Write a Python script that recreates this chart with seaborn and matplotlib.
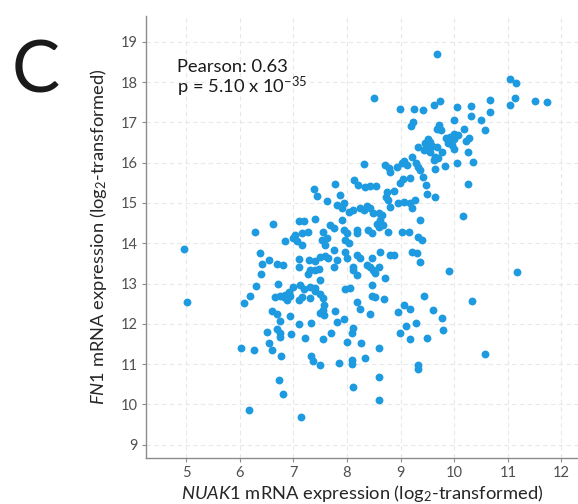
import matplotlib
matplotlib.use("Agg")
import matplotlib.pyplot as plt
import seaborn as sns
import pandas as pd

# NUAK1 (x) and FN1 (y) log2 expression
nuak1 = [
    # upper region
    7.38, 7.78, 7.87,
    9.68, 11.04, 11.16, 11.14, 11.04, 11.51, 11.74, 8.51, 8.99, 9.25, 9.42, 9.63, 9.73,
    10.05, 10.31, 10.66, 10.66, 10.31, 10.50, 10.57, 9.99, 9.23, 9.20, 9.72, 9.68, 10.19,
    10.27, 10.08, 9.93, 9.84, 9.89, 9.99, 9.52, 9.48, 9.58, 9.33, 9.52, 9.68, 9.77, 10.26,
    10.36, 10.05, 9.83, 9.65, 9.70, 9.64, 9.21, 9.29, 9.07, 9.12, 8.94, 9.37, 9.42, 8.71,
    8.79, 8.81, 8.32, 9.17, 9.04, 8.98, 9.48, 10.26, 8.13, 8.21, 8.34, 8.43, 8.54, 8.74,
    8.88, 8.73, 9.50, 9.65, 9.27,
    9.75, 9.99, 9.93, 9.99, 9.96, 10.22, 9.46, 9.55, 9.43, 9.55, 9.63, 9.32, 9.02,
    # left-middle region
    7.44, 7.62, 6.62, 6.29, 7.10, 7.19, 7.41, 7.28, 7.16, 7.03, 7.00, 7.07, 7.16, 6.85,
    7.56, 7.53, 7.62, 7.59, 6.37, 6.55, 6.42, 6.70, 6.80, 7.10, 7.10, 7.30, 7.41, 7.50,
    7.59, 7.65, 6.40, 7.31, 7.41, 7.47, 7.28, 7.50, 6.31, 6.72, 7.00, 7.13, 7.19, 7.31,
    7.41, 6.19, 6.07, 6.66, 6.75, 6.85, 6.91, 6.94, 6.88, 6.83, 7.10, 7.16, 7.31, 7.41,
    7.50, 7.55, 7.58, 7.55, 7.49, 7.57, 6.61, 6.69, 6.75, 6.94, 7.11, 7.33, 6.51, 6.69,
    6.75, 6.75, 6.95, 7.22, 7.55, 6.55, 6.02, 6.27, 6.61, 6.77, 7.33, 7.36, 7.50, 6.73,
    6.80, 6.18, 7.14,
    # centre region
    7.81, 7.90, 7.94, 8.03, 8.12, 8.25, 8.31, 8.37, 8.43, 8.49, 8.59, 8.65, 8.62, 8.56,
    8.59, 8.68, 8.77, 8.96, 9.06, 9.18, 9.21, 8.81, 7.69, 7.75, 7.90, 7.94, 8.00, 7.97,
    8.03, 8.18, 8.18, 8.40, 8.46, 8.77, 9.02, 9.15, 9.37, 9.33, 9.40, 7.75, 7.81, 7.75,
    7.97, 8.00, 8.18, 8.25, 8.12, 8.12, 8.18, 8.37, 8.43, 8.46, 8.49, 8.53, 8.62, 8.59,
    8.71, 8.46, 8.81, 8.87, 9.21, 9.30, 9.37,
    8.46, 8.53, 8.69, 8.18, 8.25, 8.43, 7.78, 7.81, 7.95, 7.71, 8.12, 8.09, 8.00, 8.26,
    8.60, 8.34, 8.09, 8.09, 7.85, 8.59, 8.12, 8.59, 9.43, 9.07, 8.96, 9.18, 9.61, 9.10,
    9.29, 8.98, 9.18, 9.49, 9.33, 9.33, 7.97, 8.05,
    # right and far-left outliers
    10.17, 9.91, 11.18, 10.33, 9.77, 9.79, 10.57,
    4.95, 5.01,
]

fn1 = [
    15.34, 15.47, 15.19,
    18.69, 18.07, 17.98, 17.61, 17.42, 17.52, 17.50, 17.61, 17.33, 17.34, 17.30, 17.42, 17.53,
    17.39, 17.40, 17.55, 17.25, 17.15, 17.06, 16.81, 17.06, 17.01, 16.90, 16.93, 16.83, 16.83,
    16.62, 16.68, 16.64, 16.62, 16.48, 16.35, 16.58, 16.46, 16.41, 16.39, 16.31, 16.39, 16.26, 16.26,
    16.02, 16.00, 15.92, 16.15, 16.12, 15.84, 16.13, 15.98, 16.03, 15.94, 15.90, 15.83, 15.65, 15.94,
    15.86, 15.77, 15.97, 15.63, 15.59, 15.50, 15.44, 15.47, 15.57, 15.44, 15.40, 15.43, 15.43, 15.28,
    15.30, 15.15, 15.22, 15.15, 15.07,
    16.81, 16.72, 16.52, 16.58, 16.44, 16.54, 16.48, 16.52, 16.31, 16.27, 16.06, 15.90, 15.98,
    15.18, 15.05, 14.47, 14.28, 14.56, 14.55, 14.59, 14.29, 14.25, 14.20, 14.12, 14.05, 13.96, 14.06,
    14.29, 14.08, 14.12, 13.96, 13.75, 13.58, 13.48, 13.48, 13.46, 13.60, 13.42, 13.58, 13.57, 13.65,
    13.68, 13.63, 13.24, 13.33, 13.33, 13.35, 13.24, 13.09, 12.94, 12.99, 12.91, 12.96, 12.86, 12.91,
    12.88, 12.70, 12.52, 12.67, 12.69, 12.71, 12.80, 12.69, 12.59, 12.66, 12.59, 12.67, 12.63, 12.82,
    12.74, 12.63, 12.47, 12.34, 12.26, 12.22, 12.33, 12.24, 12.08, 12.20, 11.99, 12.01, 11.80, 11.87,
    11.78, 11.67, 11.75, 11.64, 11.62, 11.53, 11.39, 11.35, 11.35, 11.21, 11.20, 11.08, 10.98, 10.61,
    10.25, 9.86, 9.68,
    14.95, 14.87, 14.99, 14.78, 14.82, 14.87, 14.82, 14.92, 14.87, 14.74, 14.74, 14.70, 14.58, 14.49,
    14.41, 14.45, 15.07, 14.99, 15.03, 14.99, 14.87, 14.91, 14.45, 14.37, 14.58, 14.33, 14.25, 14.08,
    14.00, 14.25, 14.33, 14.33, 14.25, 14.29, 14.29, 14.29, 14.58, 14.16, 14.08, 13.83, 13.58, 13.42,
    13.79, 13.63, 13.71, 13.63, 13.42, 13.33, 13.21, 13.46, 13.42, 13.63, 13.33, 13.25, 13.79, 13.42,
    13.13, 12.96, 13.71, 13.71, 13.79, 13.75, 13.54,
    12.69, 12.66, 12.61, 12.55, 12.38, 12.24, 12.32, 12.05, 12.11, 11.76, 11.90, 11.76, 11.56, 11.52,
    11.41, 11.14, 11.10, 11.00, 11.02, 10.69, 10.42, 10.11, 12.70, 12.47, 12.30, 12.36, 12.34, 11.95,
    12.01, 11.76, 11.62, 11.66, 10.98, 10.87, 12.86, 12.88,
    14.68, 13.32, 13.29, 12.57, 12.15, 11.85, 11.24,
    13.85, 12.55,
]

x_ticks = [5, 6, 7, 8, 9, 10, 11, 12]
y_ticks = [9, 10, 11, 12, 13, 14, 15, 16, 17, 18, 19]
pearson_text = "Pearson: 0.63"
p_text = r"p = 5.10 x 10$^{\mathregular{-35}}$"

df = pd.DataFrame({"NUAK1": nuak1, "FN1": fn1})

sns.set_style("white")
plt.rcParams["font.family"] = ["Lato", "DejaVu Sans"]
plt.rcParams["mathtext.fontset"] = "custom"
plt.rcParams["mathtext.rm"] = "Lato"
plt.rcParams["mathtext.it"] = "Lato:italic"
plt.rcParams["mathtext.bf"] = "Lato:bold"

W, H = 578, 504
fig = plt.figure(figsize=(W / 100, H / 100), dpi=100)
ax = fig.add_axes([146 / W, 1 - 458 / H, 1 - 146 / W, (458 - 16) / H])

sns.scatterplot(data=df, x="NUAK1", y="FN1", ax=ax, color="#1E9BE0",
                s=32, linewidth=0, alpha=1.0, zorder=3)

ax.set_xlim(4.25, 12.31)
ax.set_ylim(8.67, 19.64)
ax.set_xticks(x_ticks)
ax.set_yticks(y_ticks)

ax.grid(True, color="#E8E8E8", linestyle=(0, (4, 3)), linewidth=0.8, zorder=0)
for side in ["top", "right"]:
    ax.spines[side].set_visible(False)
for side in ["left", "bottom"]:
    ax.spines[side].set_color("#8C8C8C")
    ax.spines[side].set_linewidth(1.0)

ax.tick_params(axis="both", which="major", direction="out", length=3, width=0.8,
               color="#8C8C8C", labelcolor="#505050", labelsize=10.5, pad=3,
               left=True, bottom=True)

ax.set_xlabel(r"$\mathit{NUAK1}$ mRNA expression (log$_\mathregular{2}$-transformed)",
              fontsize=13.2, color="#262626", labelpad=2)
ax.set_ylabel(r"$\mathit{FN1}$ mRNA expression (log$_\mathregular{2}$-transformed)",
              fontsize=13.2, color="#262626", labelpad=8)

fig.text(177 / W, 1 - 67 / H, pearson_text, fontsize=13.2, color="#1a1a1a",
         va="center", ha="left")
fig.text(177 / W, 1 - 87 / H, p_text, fontsize=13.2, color="#1a1a1a",
         va="center", ha="left")

fig.text(36 / W, 1 - 72 / H, "C", fontsize=52, color="#1a1a1a",
         ha="center", va="center")

fig.savefig("out.png", dpi=100)
